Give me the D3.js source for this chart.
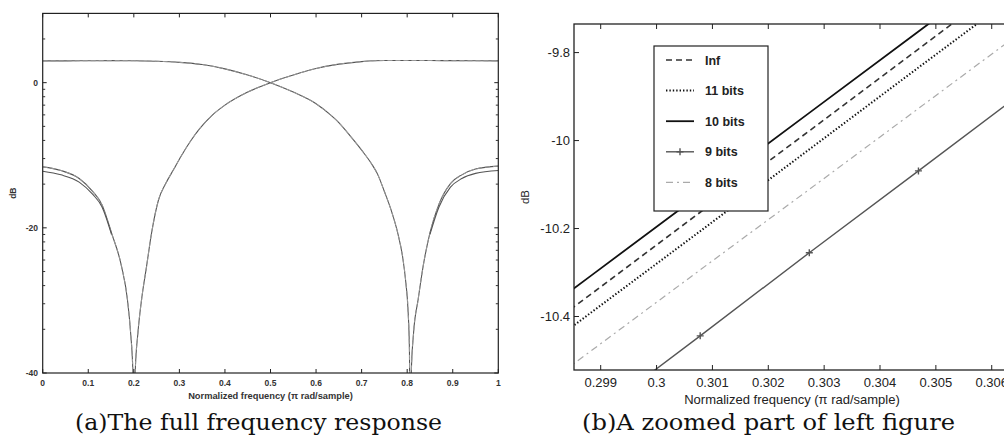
<!DOCTYPE html>
<html>
<head>
<meta charset="utf-8">
<script src="https://cdn.jsdelivr.net/npm/d3@7"></script>
<style>
  body { margin: 0; background: #fff; }
  text { font-family: "Liberation Sans", Arial, sans-serif; }
</style>
</head>
<body>
<svg id="chart" width="1004" height="445"></svg>
<script>
// ---------- left panel: full frequency response ----------
const fullTicksX = [0, 0.1, 0.2, 0.3, 0.4, 0.5, 0.6, 0.7, 0.8, 0.9, 1];
const fullTickLabelsX = ["0", "0.1", "0.2", "0.3", "0.4", "0.5", "0.6", "0.7", "0.8", "0.9", "1"];
const fullTicksY = [0, -20, -40];
const fullTickLabelsY = ["0", "-20", "-40"];
// minor ticks sit on linear magnitudes (MATLAB style)
const fullMinorMag = [2, 0.9, 0.8, 0.7, 0.6, 0.5, 0.4, 0.3, 0.2, 0.09, 0.08, 0.07, 0.06, 0.05, 0.04, 0.03, 0.02];

// lowpass branch
const lowFreq = [0, 0.05, 0.1, 0.15, 0.2, 0.25, 0.3, 0.35, 0.4, 0.45, 0.5, 0.55, 0.6, 0.633, 0.65, 0.677, 0.7, 0.721,
  0.735, 0.75, 0.765, 0.78, 0.79, 0.797, 0.802, 0.805, 0.807, 0.809, 0.814, 0.824, 0.835, 0.85, 0.87, 0.895, 0.92,
  0.95, 1];
const lowDb = [3.0, 3.0, 3.02, 3.03, 3.02, 2.95, 2.8, 2.5, 1.9, 1.05, 0, -1.3, -2.9, -4.5, -5.5, -7.5, -9.3, -11.1,
  -12.6, -15.0, -17.6, -20.9, -24.0, -27.5, -31.5, -37, -70, -40, -34.5, -29.9, -25.3, -20.7, -16.7, -13.9, -12.7,
  -11.9, -11.5];
// quantised copy that splits off near f = 1
const lowAltFreq = [0.85, 0.87, 0.895, 0.92, 0.95, 1];
const lowAltDb = [-20.9, -17.1, -14.4, -13.2, -12.5, -12.1];

// highpass branch
const highFreq = [0, 0.04, 0.08, 0.11, 0.13, 0.151, 0.173, 0.186, 0.193, 0.198, 0.2005, 0.203, 0.209, 0.217, 0.228,
  0.239, 0.254, 0.27, 0.287, 0.305, 0.325, 0.345, 0.37, 0.4, 0.45, 0.5, 0.55, 0.6, 0.65, 0.7, 0.75, 0.8, 0.85,
  0.9, 1];
const highDb = [-11.6, -12.1, -13.2, -15.0, -16.8, -20.7, -25.3, -29.9, -34.5, -40, -70, -40, -34.5, -29.9, -25.3,
  -20.7, -16.2, -13.9, -12.0, -10.0, -8.0, -6.3, -4.6, -3.1, -1.3, 0, 1.05, 1.95, 2.55, 2.9, 3.05, 3.05, 3.05,
  3.03, 3.0];
const highAltFreq = [0, 0.04, 0.08, 0.11, 0.13, 0.151];
const highAltDb = [-12.2, -12.7, -13.7, -15.4, -17.1, -20.9];

// ---------- right panel: zoomed part ----------
const zoomFreq = [0.296875, 0.298828, 0.300781, 0.302734, 0.304688, 0.306641];
const zoomInf = [-10.534, -10.349, -10.163, -9.978, -9.792, -9.606];
const zoom11 = [-10.577, -10.391, -10.206, -10.020, -9.834, -9.649];
const zoom10 = [-10.492, -10.307, -10.122, -9.937, -9.752, -9.567];
const zoom9 = [-10.818, -10.631, -10.444, -10.255, -10.069, -9.882];
const zoom8 = [-10.661, -10.478, -10.294, -10.111, -9.927, -9.743];
const zoomTicksX = [0.299, 0.3, 0.301, 0.302, 0.303, 0.304, 0.305, 0.306];
const zoomTickLabelsX = ["0.299", "0.3", "0.301", "0.302", "0.303", "0.304", "0.305", "0.306"];
const zoomTicksY = [-9.8, -10, -10.2, -10.4];
const zoomTickLabelsY = ["-9.8", "-10", "-10.2", "-10.4"];
const legendLabels = ["Inf", "11 bits", "10 bits", "9 bits", "8 bits"];

const svg = d3.select("#chart");

// ===== left panel =====
const xL = d3.scaleLinear().domain([0, 1]).range([42.7, 498.3]);
const yL = d3.scaleLinear().domain([-40, 20 * Math.log10(3)]).range([373, 13.4]);

svg.append("clipPath").attr("id", "clipL")
  .append("rect")
  .attr("x", xL(0)).attr("y", yL.range()[1])
  .attr("width", xL(1) - xL(0)).attr("height", yL.range()[0] - yL.range()[1]);

const lineL = d3.line().x(d => xL(d[0])).y(d => yL(d[1])).curve(d3.curveMonotoneX);
const gL = svg.append("g").attr("clip-path", "url(#clipL)");

function drawFull(freq, db, dashed) {
  gL.append("path")
    .datum(d3.zip(freq, db))
    .attr("fill", "none")
    .attr("stroke", dashed ? "#9a9a9a" : "#555")
    .attr("stroke-width", dashed ? 1 : 1.1)
    .attr("stroke-dasharray", dashed ? "5,3" : null)
    .attr("d", lineL);
}
drawFull(lowFreq, lowDb, false);
drawFull(lowFreq, lowDb, true);
drawFull(lowAltFreq, lowAltDb, false);
drawFull(highFreq, highDb, false);
drawFull(highFreq, highDb, true);
drawFull(highAltFreq, highAltDb, false);

// box
svg.append("rect")
  .attr("x", xL(0)).attr("y", yL.range()[1])
  .attr("width", xL(1) - xL(0)).attr("height", yL.range()[0] - yL.range()[1])
  .attr("fill", "none").attr("stroke", "#222").attr("stroke-width", 1.2);

// x ticks, top and bottom, pointing in
fullTicksX.forEach((t, i) => {
  svg.append("line").attr("x1", xL(t)).attr("x2", xL(t))
    .attr("y1", yL(-40)).attr("y2", yL(-40) - 4).attr("stroke", "#222");
  svg.append("line").attr("x1", xL(t)).attr("x2", xL(t))
    .attr("y1", yL.range()[1]).attr("y2", yL.range()[1] + 4).attr("stroke", "#222");
  svg.append("text")
    .attr("x", xL(t)).attr("y", 386)
    .attr("text-anchor", "middle")
    .attr("font-size", "8.5px").attr("font-weight", "bold").attr("fill", "#333")
    .text(fullTickLabelsX[i]);
});

// y ticks, both sides
fullTicksY.forEach((t, i) => {
  [xL(0), xL(1)].forEach((x0, s) => {
    svg.append("line").attr("x1", x0).attr("x2", s ? x0 - 4 : x0 + 4)
      .attr("y1", yL(t)).attr("y2", yL(t)).attr("stroke", "#222");
  });
  svg.append("text")
    .attr("x", 38).attr("y", yL(t) + 3)
    .attr("text-anchor", "end")
    .attr("font-size", "8.5px").attr("font-weight", "bold").attr("fill", "#333")
    .text(fullTickLabelsY[i]);
});
fullMinorMag.forEach(m => {
  const yy = yL(20 * Math.log10(m));
  [xL(0), xL(1)].forEach((x0, s) => {
    svg.append("line").attr("x1", x0).attr("x2", s ? x0 - 2.5 : x0 + 2.5)
      .attr("y1", yy).attr("y2", yy).attr("stroke", "#333");
  });
});

svg.append("text")
  .attr("x", (xL(0) + xL(1)) / 2).attr("y", 399)
  .attr("text-anchor", "middle")
  .attr("font-size", "9.3px").attr("font-weight", "bold").attr("fill", "#333")
  .text("Normalized frequency (\u03c0 rad/sample)");

svg.append("text")
  .attr("transform", `translate(16,${(yL.range()[0] + yL.range()[1]) / 2}) rotate(-90)`)
  .attr("text-anchor", "middle")
  .attr("font-size", "8.5px").attr("font-weight", "bold").attr("fill", "#333")
  .text("dB");

// ===== right panel =====
const xR = d3.scaleLinear().domain([0.298522, 0.306327]).range([574, 1010]);
const yR = d3.scaleLinear().domain([-10.5216, -9.735]).range([370, 24]);

svg.append("clipPath").attr("id", "clipR")
  .append("rect")
  .attr("x", 574).attr("y", 24).attr("width", 1010 - 574).attr("height", 370 - 24);

const lineR = d3.line().x(d => xR(d[0])).y(d => yR(d[1]));
const gR = svg.append("g").attr("clip-path", "url(#clipR)");

const zoomStyles = [
  { values: zoomInf, stroke: "#333", width: 1.6, dash: "6,4" },
  { values: zoom11, stroke: "#111", width: 2, dash: "1.4,2" },
  { values: zoom10, stroke: "#111", width: 1.8, dash: null },
  { values: zoom9, stroke: "#555", width: 1.4, dash: null, marker: true },
  { values: zoom8, stroke: "#aaa", width: 1.2, dash: "7,4,2,4" }
];

zoomStyles.forEach(s => {
  gR.append("path")
    .datum(d3.zip(zoomFreq, s.values))
    .attr("fill", "none")
    .attr("stroke", s.stroke)
    .attr("stroke-width", s.width)
    .attr("stroke-dasharray", s.dash)
    .attr("d", lineR);
  if (s.marker) {
    zoomFreq.forEach((f, i) => {
      const cx = xR(f), cy = yR(s.values[i]);
      gR.append("path")
        .attr("d", `M${cx - 3.5},${cy}H${cx + 3.5}M${cx},${cy - 3.5}V${cy + 3.5}`)
        .attr("stroke", s.stroke).attr("stroke-width", 1.4);
    });
  }
});

// axes lines (left, top, bottom; right edge is off the page)
svg.append("rect")
  .attr("x", 574).attr("y", 24).attr("width", 1010 - 574).attr("height", 370 - 24)
  .attr("fill", "none").attr("stroke", "#222").attr("stroke-width", 1.3);

zoomTicksX.forEach((t, i) => {
  svg.append("line").attr("x1", xR(t)).attr("x2", xR(t))
    .attr("y1", 370).attr("y2", 365).attr("stroke", "#222");
  svg.append("line").attr("x1", xR(t)).attr("x2", xR(t))
    .attr("y1", 24).attr("y2", 29).attr("stroke", "#222");
  svg.append("text")
    .attr("x", xR(t)).attr("y", 387)
    .attr("text-anchor", "middle")
    .attr("font-size", "13px").attr("fill", "#222")
    .text(zoomTickLabelsX[i]);
});

zoomTicksY.forEach((t, i) => {
  svg.append("line").attr("x1", 574).attr("x2", 579)
    .attr("y1", yR(t)).attr("y2", yR(t)).attr("stroke", "#222");
  svg.append("text")
    .attr("x", 570).attr("y", yR(t) + 4.5)
    .attr("text-anchor", "end")
    .attr("font-size", "13px").attr("fill", "#222")
    .text(zoomTickLabelsY[i]);
});

svg.append("text")
  .attr("x", 792).attr("y", 404)
  .attr("text-anchor", "middle")
  .attr("font-size", "13px").attr("fill", "#222")
  .text("Normalized frequency (\u03c0 rad/sample)");

svg.append("text")
  .attr("transform", `translate(529,197) rotate(-90)`)
  .attr("text-anchor", "middle")
  .attr("font-size", "11.5px").attr("fill", "#222")
  .text("dB");

// legend
const legend = svg.append("g").attr("transform", "translate(654,46)");
legend.append("rect")
  .attr("width", 114).attr("height", 165)
  .attr("fill", "#fff").attr("stroke", "#222").attr("stroke-width", 1.2);

zoomStyles.forEach((s, i) => {
  const ly = 14 + i * 30.6;
  legend.append("line")
    .attr("x1", 12).attr("x2", 40).attr("y1", ly).attr("y2", ly)
    .attr("stroke", s.stroke).attr("stroke-width", s.width)
    .attr("stroke-dasharray", s.dash);
  if (s.marker) {
    legend.append("path")
      .attr("d", `M22.5,${ly}H29.5M26,${ly - 3.5}V${ly + 3.5}`)
      .attr("stroke", s.stroke).attr("stroke-width", 1.4);
  }
  legend.append("text")
    .attr("x", 51).attr("y", ly + 4.5)
    .attr("font-size", "12.5px").attr("font-weight", "bold").attr("fill", "#222")
    .text(legendLabels[i]);
});

// captions
svg.append("text")
  .attr("x", 75).attr("y", 430)
  .attr("textLength", 367).attr("lengthAdjust", "spacingAndGlyphs")
  .style("font-family", "'DejaVu Serif', serif").attr("font-size", "23px").attr("fill", "#111")
  .text("(a)The full frequency response");

svg.append("text")
  .attr("x", 582).attr("y", 430)
  .attr("textLength", 373).attr("lengthAdjust", "spacingAndGlyphs")
  .style("font-family", "'DejaVu Serif', serif").attr("font-size", "23px").attr("fill", "#111")
  .text("(b)A zoomed part of left figure");
</script>
</body>
</html>
